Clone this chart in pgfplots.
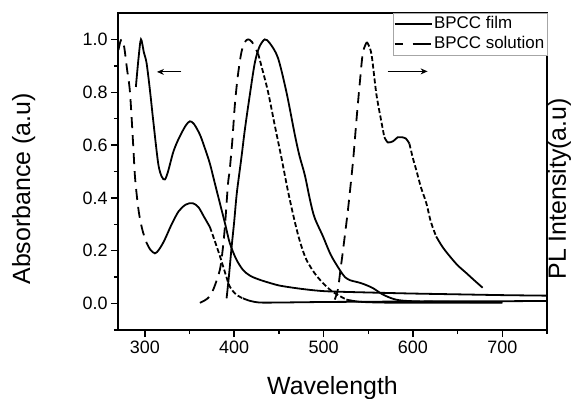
\documentclass[border=0pt]{standalone}
\usepackage{fontspec}
\setmainfont{Liberation Sans}
\usepackage{pgfplots}
\pgfplotsset{compat=1.18}
\usetikzlibrary{arrows.meta}
\begin{document}
\begin{tikzpicture}
\path[use as bounding box] (-118bp,-69bp) rectangle (455bp,330bp);
\begin{axis}[
  scale only axis, width=429bp, height=317bp,
  at={(0,0)}, anchor=south west,
  clip mode=individual,
  xmin=270, xmax=750, ymin=-0.1, ymax=1.1,
  xtick={300,400,500,600,700}, minor xtick={350,450,550,650,750},
  ytick={0,0.2,0.4,0.6,0.8,1.0}, minor ytick={-0.1,0.1,0.3,0.5,0.7,0.9},
  tick pos=left, tick align=outside,
  major tick length=7bp, minor tick length=4bp,
  every tick/.style={black, line width=1.4bp},
  axis line style={line width=1.6bp},
  /pgf/number format/assume math mode=true,
  ticklabel style={font=\fontsize{18}{20}\selectfont},
  yticklabel style={/pgf/number format/.cd, fixed, fixed zerofill, precision=1},
  xlabel={Wavelength}, ylabel={Absorbance (a.u)},
  label style={font=\fontsize{25}{28}\selectfont},
  xlabel style={at={(axis description cs:0.5,-0.205)}, anchor=base},
  ylabel style={at={(axis description cs:-0.205,0.445)}, anchor=base, rotate=0},
  legend style={at={(1,1)}, anchor=north east, draw=gray!70, line width=0.5bp,
    font=\fontsize{17}{19}\selectfont, inner sep=1bp, row sep=0bp,
    nodes={inner sep=1.5bp, text height=13bp, text depth=4bp}},
  legend cell align=left,
  legend image code/.code={\draw[#1, line width=1.8bp] (0bp,0bp) -- (37bp,0bp);},
  every axis plot/.append style={line width=1.8bp, black},
]
\addlegendimage{solid, line width=1.8bp}
\addlegendentry{BPCC film}
\addlegendimage{dash pattern=on 8bp off 10bp on 18bp off 10bp, line width=1.8bp}
\addlegendentry{BPCC solution}

% film absorption (solid)
\addplot[forget plot, smooth] coordinates {
(290,0.82) (293,0.93) (295.7,1.0) (299,0.95) (302,0.91) (306,0.80) (309.5,0.69)
(315,0.53) (319,0.48) (322.5,0.47) (326,0.50) (331.5,0.57) (336,0.61) (341,0.645)
(346,0.675) (350.4,0.69) (355,0.68) (361.6,0.64) (367,0.59) (372.8,0.53)
(378,0.46) (384,0.38) (390,0.30) (395,0.23) (402,0.17) (409.7,0.128) (418,0.105)
(428.7,0.09) (440,0.078) (451,0.068) (470,0.058) (490,0.05) (507,0.046)
(550,0.042) (600,0.038) (650,0.035) (700,0.032) (750,0.03)};

% solution absorption (dashed)
\addplot[forget plot, smooth, dash pattern=on 11bp off 7bp] coordinates {
(270.5,0.96) (272.5,0.99) (274.5,1.0) (277,0.97) (280,0.89) (283.4,0.80)
(287,0.60) (289,0.48) (292,0.38) (294.6,0.32) (298,0.27) (302,0.23)};
\addplot[forget plot, smooth] coordinates {
(302,0.23) (306,0.205) (311.3,0.19) (316,0.205) (322,0.24) (330,0.30) (338,0.35)
(346,0.375) (353.5,0.38) (360,0.365) (366,0.33) (372.8,0.29)};
\addplot[forget plot, smooth, dash pattern=on 5bp off 2.5bp] coordinates {
(372.8,0.29) (378,0.24) (384,0.18) (390,0.115) (395,0.065) (402,0.035) (409.7,0.02)};
\addplot[forget plot, smooth] coordinates {
(409.7,0.02) (418,0.01) (428.7,0.004) (450,0.004) (500,0.006) (550,0.007)
(600,0.008) (650,0.009) (700,0.009) (750,0.01)};

% solution PL at 418 nm (dashed)
\addplot[forget plot, smooth, dash pattern=on 11bp off 7bp] coordinates {
(361.6,0.003) (367,0.012) (372.8,0.028) (378,0.065) (384,0.128) (387,0.2)
(389.6,0.29) (393,0.45) (395,0.506) (398,0.62) (400.7,0.75) (404,0.86) (408,0.95)
(412,0.99) (415.6,1.0) (420,0.99) (426.8,0.946)};
\addplot[forget plot, smooth, dash pattern=on 5bp off 2.5bp] coordinates {
(426.8,0.946) (432,0.88) (438,0.80) (445.4,0.675) (453,0.55) (460.3,0.424)
(467.8,0.31) (474,0.23) (480.8,0.166) (490,0.115) (499,0.079) (510,0.045)
(525.5,0.015)};
\addplot[forget plot, smooth] coordinates {
(525.5,0.015) (540,0.007) (562.7,0.004) (600,0.003) (650,0.003) (700,0.003)};

% film PL at 435 nm (solid)
\addplot[forget plot, smooth] coordinates {
(391.5,0.02) (394,0.10) (397,0.21) (400,0.31) (403,0.42) (408,0.55) (412,0.66)
(417.5,0.79) (423,0.91) (428,0.97) (434.2,1.0) (440,0.985) (449,0.93)
(458.5,0.80) (467.8,0.64) (473,0.56) (479,0.487) (485,0.39) (490,0.325)
(499.4,0.254) (508,0.185) (518,0.128) (524,0.10) (530,0.088) (537,0.082)
(544,0.075) (555,0.059) (566.5,0.034) (581,0.015) (600,0.009) (650,0.006)
(700,0.005)};

% solution PL at 548 nm (dashed)
\addplot[forget plot, smooth, dash pattern=on 11bp off 7bp] coordinates {
(512.5,0.015) (516,0.053) (519,0.13) (521.7,0.2) (527.3,0.355) (533,0.54)
(536.7,0.69) (540.4,0.83) (544,0.95) (548.5,0.99)};
\addplot[forget plot, smooth, dash pattern=on 5bp off 2.5bp] coordinates {
(548.5,0.99) (553.5,0.946) (559,0.795) (564.6,0.69) (568,0.63)};
\addplot[forget plot, smooth] coordinates {
(568,0.63) (572,0.61) (578,0.615) (583,0.63) (587,0.63) (592,0.625) (596,0.606)};
\addplot[forget plot, smooth, dash pattern=on 5bp off 2.5bp] coordinates {
(596,0.606) (600,0.55) (603.7,0.506) (609,0.44) (615,0.38) (620,0.31) (626,0.254)};
\addplot[forget plot, smooth] coordinates {
(626,0.254) (633,0.215) (641,0.18) (650,0.145) (659.6,0.116) (668,0.09) (678,0.06)};

\draw[-{Stealth[length=7bp,width=6bp]}, line width=1bp] (axis cs:341,0.877) -- (axis cs:313.6,0.877);
\draw[-{Stealth[length=7bp,width=6bp]}, line width=1bp] (axis cs:571.7,0.879) -- (axis cs:616.4,0.879);

\node[font=\fontsize{25}{28}\selectfont, rotate=90, anchor=base] at (axis description cs:1.044,0.445) {PL Intensity(a.u)};
\end{axis}
\end{tikzpicture}
\end{document}
